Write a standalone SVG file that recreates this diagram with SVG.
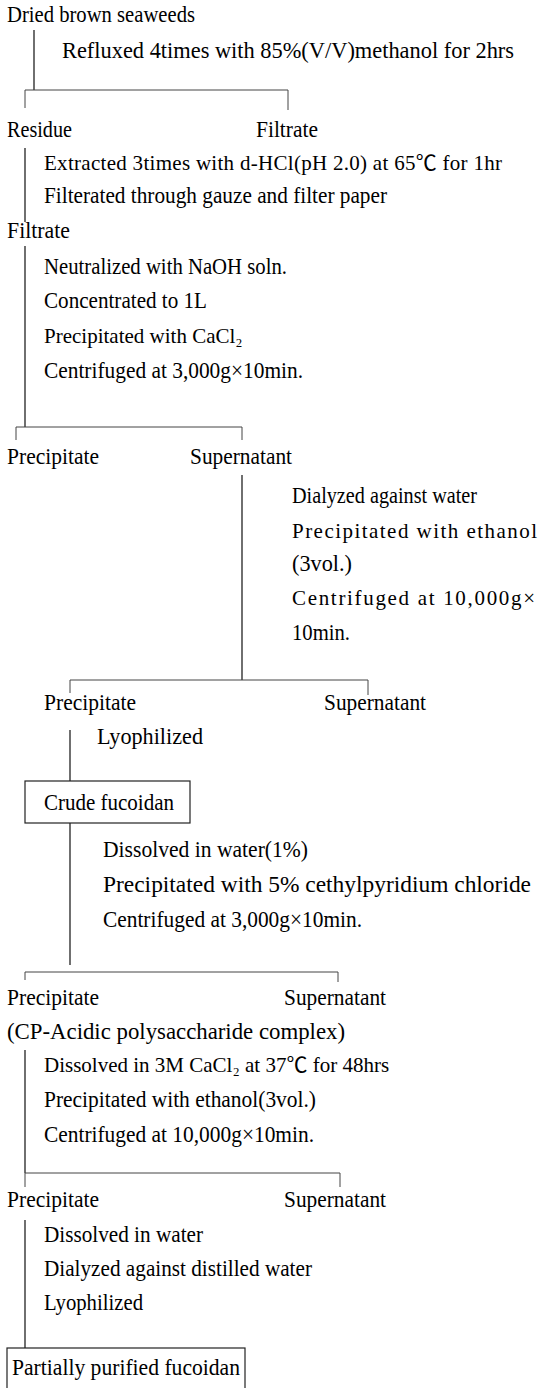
<svg xmlns="http://www.w3.org/2000/svg" width="539" height="1388" viewBox="0 0 539 1388">
<style>
text{font-family:"Liberation Serif","Times New Roman","Noto Sans CJK KR",serif;font-size:23px;fill:#000}
.s21{font-size:21px}
.ln{stroke:#222;stroke-width:1.3;fill:none}
.br{stroke:#444;stroke-width:1;fill:none}
.box{stroke:#222;stroke-width:1.2;fill:#fff}
</style>
<rect width="539" height="1388" fill="#fff"/>
<g id="connectors">
<path class="ln" d="M34 30V90"/>
<path class="br" d="M25 108V90H288V110"/>
<path class="ln" d="M25 148V222"/>
<path class="ln" d="M25 246V427"/>
<path class="br" d="M16 440V427H242V440"/>
<path class="ln" d="M242 475V680"/>
<path class="br" d="M70 693V680H368V695"/>
<path class="ln" d="M70 730V781"/>
<path class="ln" d="M70 823V965"/>
<path class="br" d="M25 980V972H338V982"/>
<path class="ln" d="M25 1050V1173"/>
<path class="br" d="M25 1187V1173H340V1187"/>
<path class="ln" d="M25 1220V1348"/>
</g>
<g id="n1"><text x="7" y="22" textLength="188" lengthAdjust="spacingAndGlyphs">Dried brown seaweeds</text></g>
<g id="s1"><text x="62" y="58" textLength="452" lengthAdjust="spacingAndGlyphs">Refluxed 4times with 85%(V/V)methanol for 2hrs</text></g>
<g id="n2"><text x="7" y="137" textLength="65" lengthAdjust="spacingAndGlyphs">Residue</text></g>
<g id="n3"><text x="256" y="137" textLength="62" lengthAdjust="spacingAndGlyphs">Filtrate</text></g>
<g id="s2"><text class="s21" x="44" y="170" textLength="458" lengthAdjust="spacing">Extracted 3times with d-HCl(pH 2.0) at 65℃ for 1hr</text><text x="44" y="203" textLength="343" lengthAdjust="spacingAndGlyphs">Filterated through gauze and filter paper</text></g>
<g id="n4"><text x="7" y="238" textLength="63" lengthAdjust="spacingAndGlyphs">Filtrate</text></g>
<g id="s3"><text x="44" y="274" textLength="243" lengthAdjust="spacingAndGlyphs">Neutralized with NaOH soln.</text><text x="44" y="308" textLength="163" lengthAdjust="spacingAndGlyphs">Concentrated to 1L</text><text class="s21" x="44" y="343">Precipitated with CaCl₂</text><text x="44" y="378" textLength="259" lengthAdjust="spacingAndGlyphs">Centrifuged at 3,000g×10min.</text></g>
<g id="n5"><text x="7" y="464" textLength="92" lengthAdjust="spacingAndGlyphs">Precipitate</text></g>
<g id="n6"><text x="190" y="464" textLength="102" lengthAdjust="spacingAndGlyphs">Supernatant</text></g>
<g id="s4"><text x="292" y="503" textLength="185" lengthAdjust="spacingAndGlyphs">Dialyzed against water</text><text class="s21" x="292" y="538" textLength="245" lengthAdjust="spacing">Precipitated with ethanol</text><text x="292" y="571" textLength="60" lengthAdjust="spacingAndGlyphs">(3vol.)</text><text class="s21" x="292" y="605" textLength="243" lengthAdjust="spacing">Centrifuged at 10,000g×</text><text x="292" y="640" textLength="58" lengthAdjust="spacingAndGlyphs">10min.</text></g>
<g id="n7"><text x="44" y="710" textLength="92" lengthAdjust="spacingAndGlyphs">Precipitate</text></g>
<g id="n8"><text x="324" y="710" textLength="102" lengthAdjust="spacingAndGlyphs">Supernatant</text></g>
<g id="s5"><text x="97" y="744" textLength="106" lengthAdjust="spacingAndGlyphs">Lyophilized</text></g>
<g id="n9"><rect class="box" x="25" y="781" width="165" height="42"/><text x="44" y="810" textLength="130" lengthAdjust="spacingAndGlyphs">Crude fucoidan</text></g>
<g id="s6"><text x="103" y="857" textLength="205" lengthAdjust="spacingAndGlyphs">Dissolved in water(1%)</text><text x="103" y="892" textLength="428" lengthAdjust="spacingAndGlyphs">Precipitated with 5% cethylpyridium chloride</text><text x="103" y="927" textLength="259" lengthAdjust="spacingAndGlyphs">Centrifuged at 3,000g×10min.</text></g>
<g id="n10"><text x="7" y="1005" textLength="92" lengthAdjust="spacingAndGlyphs">Precipitate</text><text x="7" y="1039" textLength="338" lengthAdjust="spacingAndGlyphs">(CP-Acidic polysaccharide complex)</text></g>
<g id="n11"><text x="284" y="1005" textLength="102" lengthAdjust="spacingAndGlyphs">Supernatant</text></g>
<g id="s7"><text class="s21" x="44" y="1072">Dissolved in 3M CaCl₂ at 37℃ for 48hrs</text><text x="44" y="1107" textLength="272" lengthAdjust="spacingAndGlyphs">Precipitated with ethanol(3vol.)</text><text x="44" y="1142" textLength="270" lengthAdjust="spacingAndGlyphs">Centrifuged at 10,000g×10min.</text></g>
<g id="n12"><text x="7" y="1207" textLength="92" lengthAdjust="spacingAndGlyphs">Precipitate</text></g>
<g id="n13"><text x="284" y="1207" textLength="102" lengthAdjust="spacingAndGlyphs">Supernatant</text></g>
<g id="s8"><text x="44" y="1242" textLength="159" lengthAdjust="spacingAndGlyphs">Dissolved in water</text><text x="44" y="1276" textLength="268" lengthAdjust="spacingAndGlyphs">Dialyzed against distilled water</text><text x="44" y="1310" textLength="99" lengthAdjust="spacingAndGlyphs">Lyophilized</text></g>
<g id="n14"><rect class="box" x="7" y="1348" width="238" height="52"/><text x="12" y="1375" textLength="228" lengthAdjust="spacingAndGlyphs">Partially purified fucoidan</text></g>
</svg>
